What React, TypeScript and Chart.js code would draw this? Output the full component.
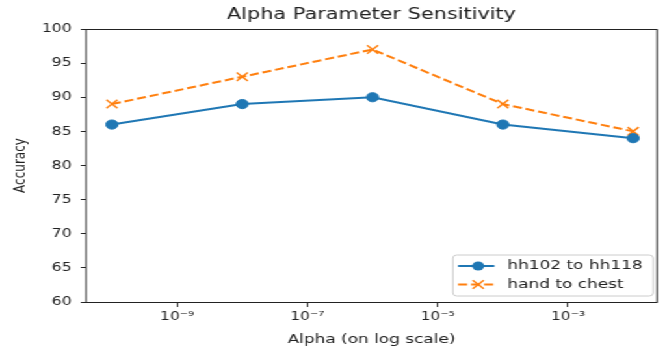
import React, { useEffect, useRef } from "react";
import { Chart, registerables } from "chart.js";

Chart.register(...registerables);

// ---- data ----
const alphas = [1e-10, 1e-8, 1e-6, 1e-4, 1e-2];
const hh102ToHh118 = [86, 89, 90, 86, 84];
const handToChest = [89, 93, 97, 89, 85];
const seriesNames = ["hh102 to hh118", "hand to chest"];
const xTickValues = [1e-9, 1e-7, 1e-5, 1e-3];
const xTickLabels = ["10⁻⁹", "10⁻⁷", "10⁻⁵", "10⁻³"];
const yTickStep = 5;
const titleText = "Alpha Parameter Sensitivity";
const xAxisLabel = "Alpha (on log scale)";
const yAxisLabel = "Accuracy";
const X_MIN = 4.0e-11;
const X_MAX = 0.0232;
const Y_MIN = 60;
const Y_MAX = 100;

// ---- styling ----
const FULL_W = 667;
const H = 349;
const W = 513;
const S = FULL_W / W; // horizontal stretch, as in the reference
const FONT = "'DejaVu Sans', sans-serif";
const TEXT = "#222222";
const BLUE = "#1f77b4";
const ORANGE = "#ff7f0e";

const framePlugin = {
  id: "frameTitleLegend",
  afterDraw(chart: any) {
    const { ctx, chartArea: ca } = chart;
    ctx.save();
    // frame
    ctx.strokeStyle = TEXT;
    ctx.lineWidth = 1;
    ctx.strokeRect(ca.left, Math.round(ca.top) + 0.5, ca.right - ca.left, Math.round(ca.bottom) - Math.round(ca.top));

    // title centered on axes
    ctx.fillStyle = TEXT;
    ctx.font = `16px ${FONT}`;
    ctx.textAlign = "center";
    ctx.textBaseline = "middle";
    ctx.fillText(titleText, (ca.left + ca.right) / 2, 15);

    // legend
    const bw = 154;
    const bh = 41;
    const bx = ca.right - 3 - bw;
    const by = ca.bottom - 6 - bh;
    ctx.beginPath();
    ctx.roundRect(bx, by, bw, bh, 3);
    ctx.fillStyle = "rgba(255,255,255,0.8)";
    ctx.fill();
    ctx.strokeStyle = "#cccccc";
    ctx.lineWidth = 1;
    ctx.stroke();

    const rows = [by + 11, by + 29.5];
    const colors = [BLUE, ORANGE];
    rows.forEach((ry, i) => {
      const x0 = bx + 4;
      const x1 = bx + 32;
      const xm = bx + 19.5;
      ctx.strokeStyle = colors[i];
      ctx.lineWidth = 2;
      ctx.setLineDash(i === 1 ? [7, 3] : []);
      ctx.beginPath();
      ctx.moveTo(x0, ry);
      ctx.lineTo(x1, ry);
      ctx.stroke();
      ctx.setLineDash([]);
      if (i === 0) {
        ctx.fillStyle = BLUE;
        ctx.beginPath();
        ctx.arc(xm, ry, 4.6, 0, Math.PI * 2);
        ctx.fill();
      } else {
        const d = 6 * Math.SQRT1_2;
        ctx.lineWidth = 1.5;
        ctx.beginPath();
        ctx.moveTo(xm - d, ry - d);
        ctx.lineTo(xm + d, ry + d);
        ctx.moveTo(xm - d, ry + d);
        ctx.lineTo(xm + d, ry - d);
        ctx.stroke();
      }
      ctx.fillStyle = TEXT;
      ctx.font = `13px ${FONT}`;
      ctx.textAlign = "left";
      ctx.textBaseline = "middle";
      ctx.fillText(seriesNames[i], bx + 42, ry);
    });
    ctx.restore();
  },
};

export default function App() {
  const ref = useRef<HTMLCanvasElement | null>(null);

  useEffect(() => {
    if (!ref.current) return;
    const chart = new Chart(ref.current, {
      type: "line",
      data: {
        datasets: [
          {
            label: seriesNames[0],
            data: alphas.map((a, i) => ({ x: a, y: hh102ToHh118[i] })),
            borderColor: BLUE,
            backgroundColor: BLUE,
            borderWidth: 2,
            pointStyle: "circle",
            pointRadius: 4.6,
            pointBorderWidth: 1,
            pointBackgroundColor: BLUE,
            pointBorderColor: BLUE,
            tension: 0,
          },
          {
            label: seriesNames[1],
            data: alphas.map((a, i) => ({ x: a, y: handToChest[i] })),
            borderColor: ORANGE,
            backgroundColor: ORANGE,
            borderWidth: 2,
            borderDash: [7, 3],
            pointStyle: "crossRot",
            pointRadius: 6,
            pointBorderWidth: 1.5,
            pointBorderColor: ORANGE,
            tension: 0,
          },
        ],
      },
      options: {
        animation: false,
        responsive: false,
        devicePixelRatio: 1,
        layout: { padding: { left: 0, right: 10 / S, top: 29, bottom: 0 } },
        plugins: {
          legend: { display: false },
          title: { display: false },
          tooltip: { enabled: false },
        },
        scales: {
          x: {
            type: "logarithmic",
            min: X_MIN,
            max: X_MAX,
            afterBuildTicks: (scale: any) => {
              scale.ticks = xTickValues.map((v) => ({ value: v }));
            },
            afterFit: (scale: any) => {
              scale.height = H - 302;
            },
            ticks: {
              autoSkip: false,
              maxRotation: 0,
              padding: 3,
              color: TEXT,
              font: { family: FONT, size: 12 },
              callback: (_v: any, index: number) => xTickLabels[index],
            },
            grid: { drawOnChartArea: false, drawTicks: true, tickLength: 5, color: TEXT },
            border: { display: false },
            title: {
              display: true,
              text: xAxisLabel,
              color: TEXT,
              font: { family: FONT, size: 13 },
              padding: { top: 0, bottom: 2 },
            },
          },
          y: {
            type: "linear",
            min: Y_MIN,
            max: Y_MAX,
            afterFit: (scale: any) => {
              scale.width = 86 / S;
            },
            ticks: {
              stepSize: yTickStep,
              padding: 7,
              color: TEXT,
              font: { family: FONT, size: 12 },
            },
            grid: { drawOnChartArea: false, drawTicks: true, tickLength: 4, color: TEXT },
            border: { display: false },
            title: {
              display: true,
              text: yAxisLabel,
              color: TEXT,
              font: { family: FONT, size: 12 },
              padding: { top: 9, bottom: 0 },
            },
          },
        },
      } as any,
      plugins: [framePlugin],
    });
    return () => chart.destroy();
  }, []);

  return (
    <div
      style={{
        position: "absolute",
        left: 0,
        top: 0,
        width: W,
        height: H,
        transform: `scaleX(${S})`,
        transformOrigin: "0 0",
        background: "#fff",
      }}
    >
      <canvas ref={ref} width={W} height={H} style={{ display: "block", width: W, height: H }} />
    </div>
  );
}
